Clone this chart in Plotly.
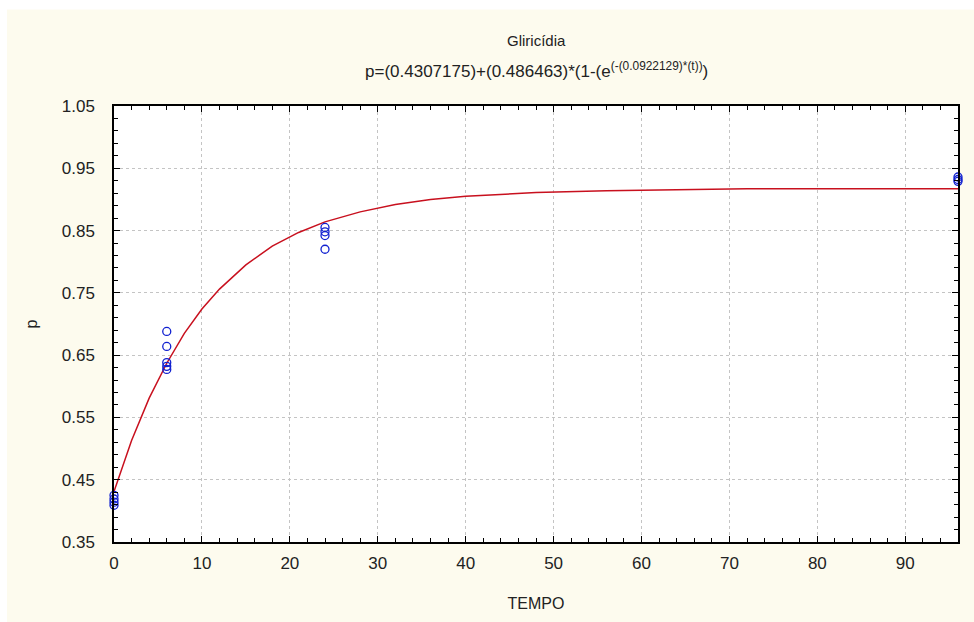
import plotly.graph_objects as go

# Observed data (TEMPO, p)
tempo_obs = [0, 0, 0, 0,
             6, 6, 6, 6, 6,
             24, 24, 24, 24,
             96, 96, 96]
p_obs = [0.425, 0.419, 0.414, 0.409,
         0.688, 0.664, 0.638, 0.632, 0.627,
         0.855, 0.848, 0.842, 0.820,
         0.936, 0.932, 0.929]

# Fitted curve
tempo_fit = [0, 2, 4, 6, 8, 10, 12, 15, 18, 21, 24, 28, 32, 36, 40, 48, 56, 64, 72, 80, 88, 96]
p_fit = [0.431, 0.513, 0.581, 0.637, 0.685, 0.724, 0.756, 0.795, 0.825, 0.847, 0.864,
         0.880, 0.892, 0.900, 0.905, 0.911, 0.914, 0.916, 0.917, 0.917, 0.917, 0.917]

x_ticks = [0, 10, 20, 30, 40, 50, 60, 70, 80, 90]
y_ticks = [0.35, 0.45, 0.55, 0.65, 0.75, 0.85, 0.95, 1.05]

title_line1 = "Gliricídia"
title_line2 = "p=(0.4307175)+(0.486463)*(1-(e<sup>(-(0.0922129)*(t))</sup>)"

FONT = "Liberation Sans, Arial, sans-serif"
CREAM = "#FDFBEE"
TXT = "#222222"

fig = go.Figure()
fig.add_trace(go.Scatter(
    x=tempo_fit, y=p_fit, mode="lines",
    line=dict(color="#C8101E", width=1.5),
    showlegend=False, hoverinfo="skip"))
fig.add_trace(go.Scatter(
    x=tempo_obs, y=p_obs, mode="markers",
    marker=dict(symbol="circle-open", size=8, color="#1020D0", line=dict(width=1.3)),
    cliponaxis=False, showlegend=False))

axis_common = dict(
    showline=True, linecolor="black", linewidth=1.5, mirror="allticks",
    ticks="inside", ticklen=6, tickwidth=1.2, tickcolor="black",
    showgrid=True, gridcolor="#C4C4C4", griddash="dot", gridwidth=1,
    zeroline=False,
    tickfont=dict(family=FONT, size=17, color=TXT),
)

fig.update_xaxes(
    range=[0, 96], tickmode="array", tickvals=x_ticks, ticktext=[str(v) for v in x_ticks],
    minor=dict(dtick=2, ticks="inside", ticklen=4, tickcolor="black", tickwidth=1, showgrid=False),
    ticklabelstandoff=5,
    title=dict(text="TEMPO", font=dict(family=FONT, size=16, color=TXT), standoff=26),
    **axis_common)
fig.update_yaxes(
    range=[0.35, 1.05], tickmode="array", tickvals=y_ticks, ticktext=[f"{v:.2f}" for v in y_ticks],
    minor=dict(dtick=0.02, tick0=0.35, ticks="inside", ticklen=4, tickcolor="black", tickwidth=1, showgrid=False),
    ticklabelstandoff=14,
    title=dict(text="p", font=dict(family=FONT, size=16, color=TXT), standoff=20),
    **axis_common)

fig.update_layout(
    width=974, height=622,
    margin=dict(l=114, r=16, t=106, b=78),
    paper_bgcolor=CREAM, plot_bgcolor="white",
    annotations=[
        dict(text=title_line1, xref="paper", yref="paper", x=0.5, y=1.0 + (106 - 40) / 438,
             yanchor="middle", showarrow=False, font=dict(family=FONT, size=15, color=TXT)),
        dict(text=title_line2, xref="paper", yref="paper", x=0.5, y=1.0 + (106 - 70) / 438,
             yanchor="middle", showarrow=False, font=dict(family=FONT, size=17, color=TXT)),
    ],
    shapes=[
        dict(type="rect", xref="paper", yref="paper", layer="below",
             x0=-0.2, x1=1.1, y0=(544 - 9) / 438, y1=1.3, fillcolor="white", line=dict(width=0)),
        dict(type="rect", xref="paper", yref="paper", layer="below",
             x0=-0.2, x1=(7 - 114) / 844, y0=-0.3, y1=1.3, fillcolor="white", line=dict(width=0)),
    ],
)

fig.write_html("out.html", config={"displayModeBar": False},
               post_script="document.body.style.margin='0';")
